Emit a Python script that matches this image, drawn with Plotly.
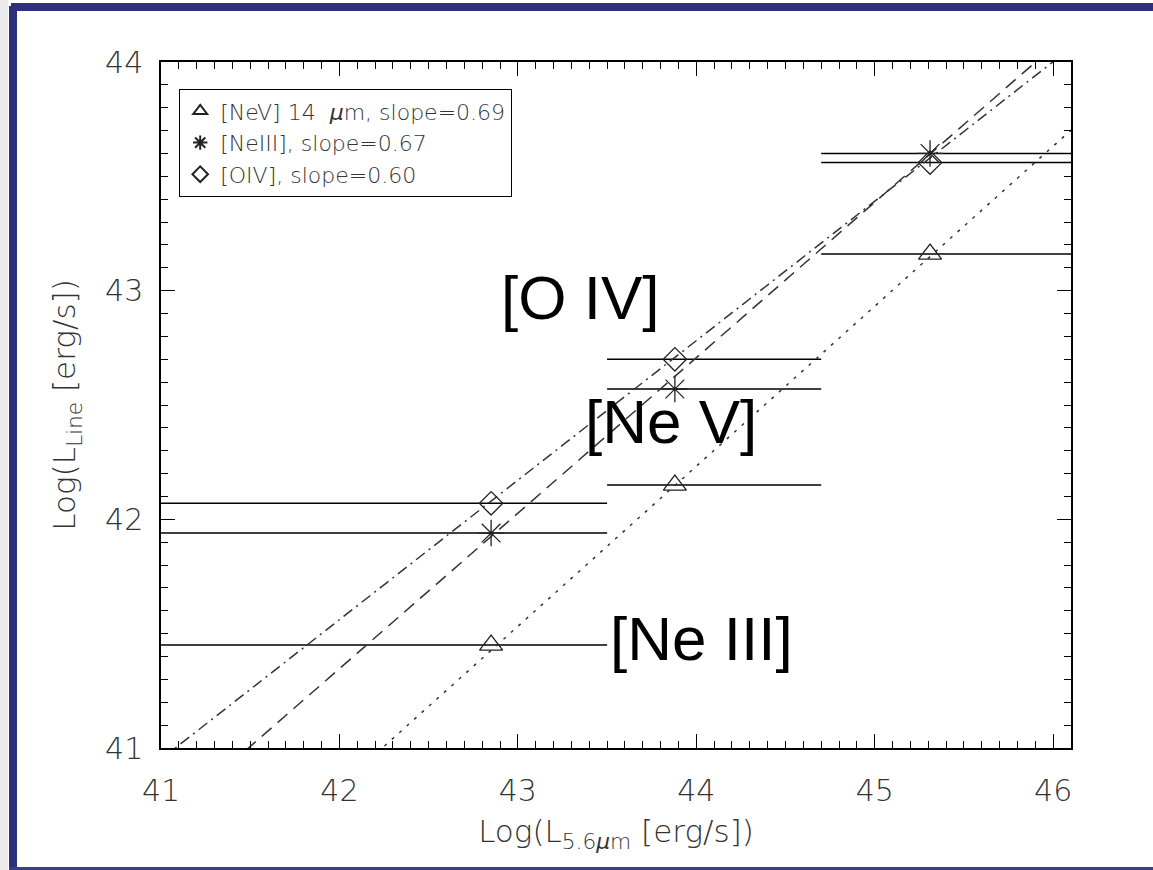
import plotly.graph_objects as go

# ---- data ----
x_bins = [42.85, 43.88, 45.31]
bin_lo = [40.0, 43.5, 44.7]
bin_hi = [43.5, 44.7, 47.0]

nev = [41.45, 42.15, 43.16]
ne3 = [41.94, 42.57, 43.60]
o4 = [42.07, 42.70, 43.56]

# fit lines: slope and x where line crosses y=41
fit_slopes = [0.70, 0.68, 0.61]
fit_x0 = [42.24, 41.49, 41.08]
fit_names = ["[NeV] 14  <i>μ</i>m, slope=0.69", "[NeIII], slope=0.67", "[OIV], slope=0.60"]
labels = ["[O IV]", "[Ne V]", "[Ne III]"]
label_x = [43.35, 43.86, 44.03]
label_y = [42.97, 42.43, 41.48]

W, H = 1153, 870
L, R, T, B = 161, 1071, 62, 748

fig = go.Figure()

series = [nev, ne3, o4]
symbols = ["triangle-up-open", "asterisk-open", "diamond-open"]
msizes = [20, 22, 18]
dashes = ["3px,7px", "13px,8px", "11px,5px,2px,5px"]

# horizontal bin segments
for ys in series:
    xs, yy = [], []
    for lo, hi, v in zip(bin_lo, bin_hi, ys):
        xs += [lo, hi, None]
        yy += [v, v, None]
    fig.add_trace(go.Scatter(x=xs, y=yy, mode="lines", line=dict(color="black", width=1.5),
                             showlegend=False, hoverinfo="skip"))

# fit lines
xe = [40.5, 46.6]
for s, x0, d in zip(fit_slopes, fit_x0, dashes):
    fig.add_trace(go.Scatter(x=xe, y=[41 + s * (v - x0) for v in xe], mode="lines",
                             line=dict(color="#333333", width=1.5, dash=d),
                             showlegend=False, hoverinfo="skip"))

# markers
for ys, sym, ms, nm in zip(series, symbols, msizes, fit_names):
    fig.add_trace(go.Scatter(x=x_bins, y=ys, mode="markers", name=nm,
                             marker=dict(symbol=sym, size=ms, color="#222222",
                                         line=dict(color="#222222", width=1.3))))

for t, lx, ly in zip(labels, label_x, label_y):
    fig.add_annotation(x=lx, y=ly, text=t, showarrow=False,
                       font=dict(family="Liberation Sans, Arial", size=62, color="black"))

def px(v):
    return (v - L) / (R - L)

def py(v):
    return (B - v) / (B - T)

border = "#2d3179"
fig.add_shape(type="rect", xref="paper", yref="paper", x0=px(0), x1=px(8), y0=py(870), y1=py(0),
              fillcolor="#ebebeb", line_width=0, layer="below")
fig.add_shape(type="rect", xref="paper", yref="paper", x0=px(9), x1=px(17), y0=py(870), y1=py(6),
              fillcolor=border, line_width=0)
fig.add_shape(type="rect", xref="paper", yref="paper", x0=px(11), x1=px(1153), y0=py(11), y1=py(3),
              fillcolor=border, line_width=0)
fig.add_shape(type="rect", xref="paper", yref="paper", x0=px(9), x1=px(1153), y0=py(870), y1=py(867),
              fillcolor="#3a3f85", line_width=0)

tick_font = dict(family="DejaVu Sans", size=30, color="#333333", weight=200)
title_font = dict(family="DejaVu Sans", size=31, color="#333333", weight=200)
common = dict(showline=True, linecolor="black", linewidth=1.5, mirror="ticks",
              ticks="inside", ticklen=14, tickwidth=1.2, tickcolor="black",
              showgrid=False, zeroline=False, tickfont=tick_font, dtick=1,
              minor=dict(ticks="inside", ticklen=7, dtick=0.1, tickwidth=1, tickcolor="black",
                         showgrid=False))

fig.update_xaxes(range=[41, 46.1], tick0=41,
                 title=dict(text="Log(L<sub>5.6<i>μ</i>m</sub> [erg/s])", font=title_font, standoff=14),
                 ticklabelstandoff=15, **common)
fig.update_yaxes(range=[41, 44], tick0=41,
                 title=dict(text="Log(L<sub>Line</sub> [erg/s])", font=title_font, standoff=20),
                 ticklabelstandoff=10, **common)

fig.update_layout(
    width=W, height=H,
    margin=dict(l=L, r=W - R, t=T, b=H - B),
    paper_bgcolor="white", plot_bgcolor="white",
    legend=dict(x=px(179), y=py(89), xanchor="left", yanchor="top",
                bordercolor="black", borderwidth=1.2, bgcolor="white",
                font=dict(family="DejaVu Sans", size=22, color="#333333", weight=300),
                itemsizing="constant", itemwidth=30, tracegroupgap=0),
)

fig.write_html("out.html", config={"displayModeBar": False},
               post_script="document.body.style.margin='0';")
